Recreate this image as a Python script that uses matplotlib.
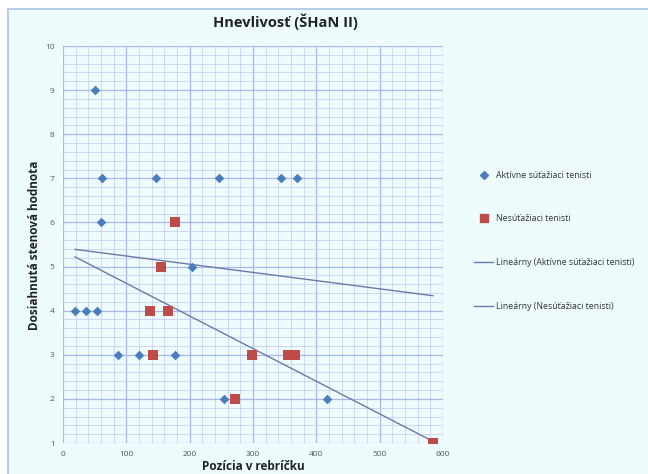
import matplotlib
matplotlib.use("Agg")
import matplotlib.pyplot as plt
import numpy as np
from matplotlib.lines import Line2D
from matplotlib.patches import Rectangle

# Data
active_x = [50, 62, 147, 247, 344, 369, 60, 204, 19, 36, 53, 87, 120, 177, 254, 417]
active_y = [9, 7, 7, 7, 7, 7, 6, 5, 4, 4, 4, 3, 3, 3, 2, 2]
non_x = [177, 154, 138, 166, 142, 298, 355, 366, 271, 584]
non_y = [6, 5, 4, 4, 3, 3, 3, 3, 2, 1]
# linear trendline coefficients (slope, intercept)
trend_active = [-0.00186, 5.425]
trend_non = [-0.0074, 5.36]

title = "Hnevlivosť (ŠHaN II)"
xlabel = "Pozícia v rebríčku"
ylabel = "Dosiahnutá stenová hodnota"
labels = ["Aktívne súťažiaci tenisti", "Nesúťažiaci tenisti",
          "Lineárny (Aktívne súťažiaci tenisti)", "Lineárny (Nesúťažiaci tenisti)"]

plt.rcParams['font.family'] = ['Open Sans', 'DejaVu Sans']

W, H = 648, 474
fig = plt.figure(figsize=(W / 100, H / 100), dpi=100)
fig.patch.set_facecolor('white')
# chart area background + border
bg = Rectangle((8 / W, -0.05), 1.0, 1 - 9 / H + 0.05, transform=fig.transFigure,
               facecolor='#eefcfe', edgecolor='#a9c4e6', linewidth=1.2, zorder=-5)
fig.patches.append(bg)

ax = fig.add_axes([63 / W, 1 - 443 / H, (443 - 63) / W, (443 - 46) / H])
ax.set_zorder(2)
ax.set_facecolor('#eefcfe')
ax.set_xlim(0, 600)
ax.set_ylim(1, 10)
ax.set_xticks(np.arange(0, 601, 100))
ax.set_yticks(np.arange(1, 11, 1))
ax.set_xticks(np.arange(0, 601, 20), minor=True)
ax.set_yticks(np.arange(1, 10.01, 0.2), minor=True)
ax.grid(which='major', color='#aab6ec', linewidth=0.9)
ax.grid(which='minor', color='#c8d0f4', linewidth=0.6)
ax.set_axisbelow(True)
for s in ax.spines.values():
    s.set_visible(False)
ax.tick_params(which='both', length=0, labelsize=6, labelcolor='#555555', pad=6)

ax.scatter(active_x, active_y, marker='D', s=24, color='#4a7ebb', zorder=3, linewidths=0)
ax.scatter(non_x, non_y, marker='s', s=42, color='#be4b48', zorder=3, linewidths=0)

xmin = min(min(active_x), min(non_x))
xmax = max(max(active_x), max(non_x))
xs = np.array([xmin, xmax])
trend_color = '#6a7aa8'
ax.plot(xs, np.polyval(trend_active, xs), color=trend_color, linewidth=1.0, zorder=2)
ax.plot(xs, np.polyval(trend_non, xs), color=trend_color, linewidth=1.0, zorder=2)

fig.text(285 / W, 1 - 22 / H, title, ha='center', va='center', fontsize=10.5,
         fontweight='bold', color='#222222')
fig.text(35 / W, 1 - 245 / H, ylabel, ha='center', va='center', rotation=90,
         fontsize=8.5, fontweight='bold', color='#222222')
fig.text(253 / W, 1 - 466 / H, xlabel, ha='center', va='center', fontsize=8.5,
         fontweight='bold', color='#222222')

handles = [
    Line2D([], [], linestyle='none', marker='D', markersize=4, color='#4a7ebb'),
    Line2D([], [], linestyle='none', marker='s', markersize=5.5, color='#be4b48'),
    Line2D([], [], color=trend_color, linewidth=1.0),
    Line2D([], [], color=trend_color, linewidth=1.0),
]
fig.legend(handles, labels, loc='upper left', bbox_to_anchor=(466 / W, 1 - 163 / H),
           frameon=False, fontsize=6.3, labelspacing=3.95, handlelength=2.2,
           handletextpad=0.3, labelcolor='#333333')

fig.savefig('out.png', dpi=100, facecolor=fig.get_facecolor())
